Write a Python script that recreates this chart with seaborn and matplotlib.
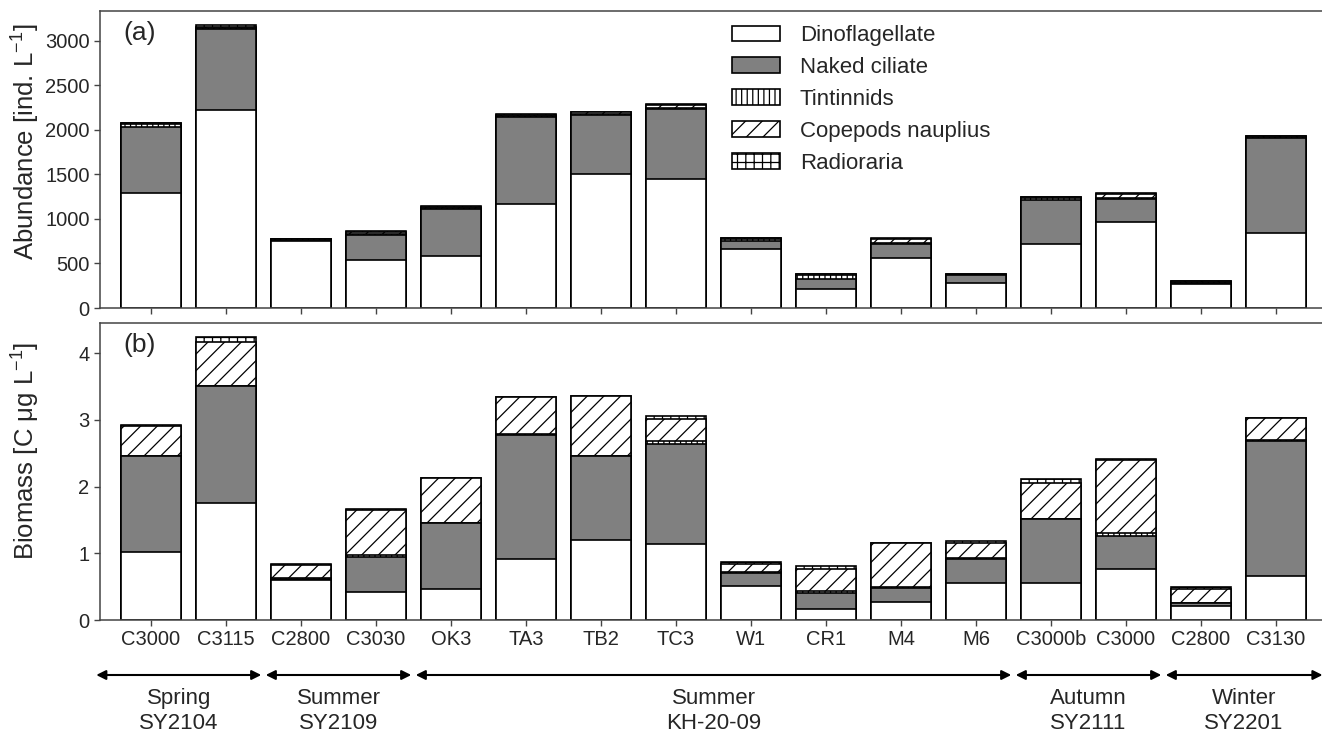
import matplotlib
matplotlib.use("Agg")
import matplotlib.pyplot as plt
from matplotlib.patches import Patch
import seaborn as sns
import pandas as pd
import numpy as np

# ---------------- data ----------------
stations = ["C3000", "C3115", "C2800", "C3030", "OK3", "TA3", "TB2", "TC3",
            "W1", "CR1", "M4", "M6", "C3000b", "C3000", "C2800", "C3130"]

categories = ["Dinoflagellate", "Naked ciliate", "Tintinnids",
              "Copepods nauplius", "Radioraria"]

abund_dino = [1296, 2225, 750, 539, 588, 1169, 1502, 1449, 660, 210, 558, 285, 719, 970, 270, 839]
abund_naked = [741, 910, 10, 278, 521, 981, 667, 787, 97, 119, 157, 82, 494, 251, 15, 1067]
abund_tint = [25, 12, 10, 10, 10, 10, 10, 12, 18, 38, 10, 8, 25, 12, 8, 20]
abund_cope = [12, 15, 5, 32, 20, 14, 20, 36, 7, 10, 48, 4, 8, 53, 6, 6]
abund_radio = [8, 18, 4, 10, 7, 6, 7, 8, 5, 5, 10, 3, 5, 10, 4, 4]

bio_dino = [1.02, 1.76, 0.60, 0.42, 0.46, 0.92, 1.20, 1.14, 0.51, 0.16, 0.27, 0.56, 0.56, 0.77, 0.21, 0.66]
bio_naked = [1.43, 1.74, 0.02, 0.53, 1.00, 1.85, 1.26, 1.50, 0.20, 0.25, 0.21, 0.36, 0.95, 0.49, 0.04, 2.02]
bio_tint = [0.01, 0.01, 0.01, 0.03, 0.00, 0.01, 0.00, 0.04, 0.01, 0.02, 0.01, 0.01, 0.01, 0.04, 0.01, 0.02]
bio_cope = [0.44, 0.65, 0.20, 0.67, 0.67, 0.56, 0.89, 0.33, 0.12, 0.33, 0.67, 0.23, 0.54, 1.10, 0.21, 0.32]
bio_radio = [0.02, 0.08, 0.01, 0.01, 0.00, 0.00, 0.01, 0.05, 0.03, 0.05, 0.00, 0.03, 0.05, 0.01, 0.02, 0.00]

cruise_labels = ["Spring\nSY2104", "Summer\nSY2109", "Summer\nKH-20-09",
                 "Autumn\nSY2111", "Winter\nSY2201"]
cruise_spans = [(-0.73, 1.47), (1.53, 3.47), (3.53, 11.47), (11.53, 13.47), (13.53, 15.62)]

# ---------------- style ----------------
sns.set_theme(style="white")
FONT = ["Liberation Sans", "DejaVu Sans"]
plt.rcParams["font.family"] = FONT
plt.rcParams["mathtext.fontset"] = "custom"
plt.rcParams["mathtext.rm"] = "Liberation Sans"
plt.rcParams["mathtext.it"] = "Liberation Sans:italic"
plt.rcParams["hatch.linewidth"] = 0.9
plt.rcParams["hatch.color"] = "black"

FS_TICK = 14.5
FS_LAB = 18.5
FS_LEG = 16
FS_SEASON = 16
FS_PANEL = 19

facecolors = ["white", "#808080", "white", "white", "white"]
hatches = [None, None, "|||", "//", "++"]

W, H = 1322, 736
fig = plt.figure(figsize=(W / 100, H / 100), dpi=100)
left = 100 / W
right = 1327 / W
ax1 = fig.add_axes([left, 1 - 308 / H, right - left, 297 / H])
ax2 = fig.add_axes([left, 1 - 620 / H, right - left, 297 / H])

xpos = list(range(len(stations)))


def draw_stack(ax, layers):
    cums = np.cumsum(np.array(layers), axis=0)
    # draw from top layer to bottom so lower layers cover upper ones
    for i in range(len(layers) - 1, -1, -1):
        df = pd.DataFrame({"x": xpos, "y": cums[i]})
        kw = dict(edgecolor="black", linewidth=1.2)
        if hatches[i]:
            kw["hatch"] = hatches[i]
        sns.barplot(data=df, x="x", y="y", ax=ax, color=facecolors[i],
                    saturation=1, width=0.8, errorbar=None, **kw)


draw_stack(ax1, [abund_dino, abund_naked, abund_tint, abund_cope, abund_radio])
draw_stack(ax2, [bio_dino, bio_naked, bio_tint, bio_cope, bio_radio])

for ax in (ax1, ax2):
    ax.set_xlim(-0.68, 15.68)
    for s in ax.spines.values():
        s.set_color("#444444")
        s.set_linewidth(1.1)
        s.set_visible(True)
    ax.tick_params(axis="both", direction="out", length=4, width=1,
                   color="#444444", labelsize=FS_TICK, left=True, bottom=True)
    ax.set_xlabel("")
    ax.grid(False)

ax1.set_ylim(0, 3337)
ax1.set_yticks([0, 500, 1000, 1500, 2000, 2500, 3000])
ax1.set_xticks(xpos)
ax1.set_xticklabels([])
ax1.set_ylabel("Abundance [ind. L$^{-1}$]", fontsize=FS_LAB)
ax1.yaxis.set_label_coords(-0.047, 0.56)

ax2.set_ylim(0, 4.45)
ax2.set_yticks([0, 1, 2, 3, 4])
ax2.set_xticks(xpos)
ax2.set_xticklabels(stations)
ax2.set_ylabel("Biomass [C \u03bcg L$^{-1}$]", fontsize=FS_LAB)
ax2.yaxis.set_label_coords(-0.047, 0.57)

ax1.text(0.019, 0.968, "(a)", transform=ax1.transAxes, fontsize=FS_PANEL, va="top", ha="left")
ax2.text(0.019, 0.968, "(b)", transform=ax2.transAxes, fontsize=FS_PANEL, va="top", ha="left")

# legend
handles = [Patch(facecolor=facecolors[i], edgecolor="black", linewidth=1.2,
                 hatch=hatches[i]) for i in range(len(categories))]
ax1.legend(handles, categories, loc="upper left", bbox_to_anchor=(0.515, 0.952),
           frameon=False, fontsize=FS_LEG, handlelength=2.16, handleheight=0.72,
           handletextpad=0.9, labelspacing=0.49, borderpad=0, borderaxespad=0)

# cruise arrows and labels
y_arrow = 1 - 675 / H
y_text = 1 - 711 / H
for (x0, x1), lab in zip(cruise_spans, cruise_labels):
    ax2.annotate("", xy=(x1, y_arrow), xytext=(x0, y_arrow),
                 xycoords=("data", "figure fraction"),
                 textcoords=("data", "figure fraction"),
                 arrowprops=dict(arrowstyle="<|-|>", color="black", lw=1.5,
                                 mutation_scale=14, shrinkA=0, shrinkB=0),
                 annotation_clip=False)
    ax2.annotate(lab, xy=((x0 + x1) / 2, y_text),
                 xycoords=("data", "figure fraction"),
                 ha="center", va="center", fontsize=FS_SEASON, linespacing=1.2,
                 annotation_clip=False)

fig.savefig("out.png", dpi=100)
